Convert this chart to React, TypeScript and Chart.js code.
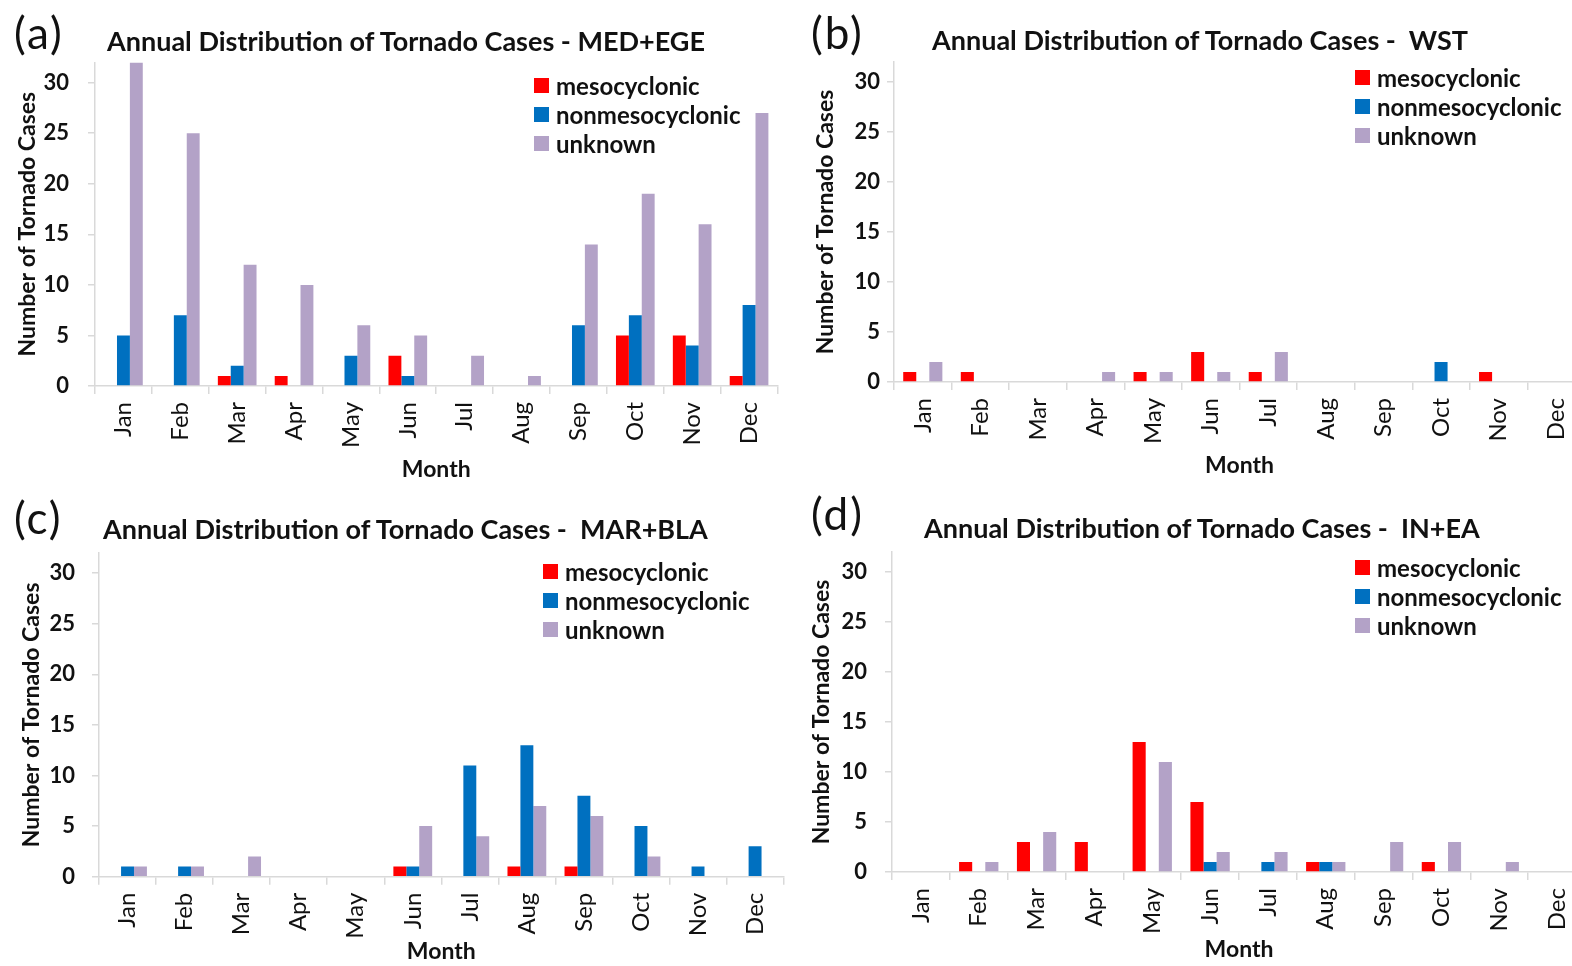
import React, { useEffect, useRef } from "react";
import { Chart, registerables } from "chart.js";

Chart.register(...registerables);

const months = ["Jan", "Feb", "Mar", "Apr", "May", "Jun", "Jul", "Aug", "Sep", "Oct", "Nov", "Dec"];
const seriesNames = ["mesocyclonic", "nonmesocyclonic", "unknown"];
const seriesColors = ["#FF0000", "#0070C0", "#B3A2C7"];
const yTickValues = [0, 5, 10, 15, 20, 25, 30];
const yMax = 32;

// (a) MED+EGE
const medEgeMeso = [0, 0, 1, 1, 0, 3, 0, 0, 0, 5, 5, 1];
const medEgeNonMeso = [5, 7, 2, 0, 3, 1, 0, 0, 6, 7, 4, 8];
const medEgeUnknown = [32, 25, 12, 10, 6, 5, 3, 1, 14, 19, 16, 27];

// (b) WST
const wstMeso = [1, 1, 0, 0, 1, 3, 1, 0, 0, 0, 1, 0];
const wstNonMeso = [0, 0, 0, 0, 0, 0, 0, 0, 0, 2, 0, 0];
const wstUnknown = [2, 0, 0, 1, 1, 1, 3, 0, 0, 0, 0, 0];

// (c) MAR+BLA
const marBlaMeso = [0, 0, 0, 0, 0, 1, 0, 1, 1, 0, 0, 0];
const marBlaNonMeso = [1, 1, 0, 0, 0, 1, 11, 13, 8, 5, 1, 3];
const marBlaUnknown = [1, 1, 2, 0, 0, 5, 4, 7, 6, 2, 0, 0];

// (d) IN+EA
const inEaMeso = [0, 1, 3, 3, 13, 7, 0, 1, 0, 1, 0, 0];
const inEaNonMeso = [0, 0, 0, 0, 0, 1, 1, 1, 0, 0, 0, 0];
const inEaUnknown = [0, 1, 4, 0, 11, 2, 2, 1, 3, 3, 1, 0];

const FONT = "Lato, 'Open Sans', sans-serif";

type PanelSpec = {
  letter: string;
  title: string;
  values: number[][];
  x: number;
  y: number;
  w: number;
  h: number;
  areaLeft: number;
  areaRight: number;
  areaTop: number;
  areaBottom: number;
  tickPad: number;
  yTitleCenter: number;
  monthCenter: number;
  letterPos: [number, number];
  titlePos: [number, number];
  legendPos: [number, number];
};

const panels: PanelSpec[] = [
  {
    letter: "(a)",
    title: "Annual Distribution of Tornado Cases - MED+EGE",
    values: [medEgeMeso, medEgeNonMeso, medEgeUnknown],
    x: 0, y: 0, w: 786, h: 483,
    areaLeft: 95, areaRight: 782.6, areaTop: 62.4, areaBottom: 386,
    tickPad: 19, yTitleCenter: 28, monthCenter: 470,
    letterPos: [14, 10], titlePos: [107, 41], legendPos: [534, 85],
  },
  {
    letter: "(b)",
    title: "Annual Distribution of Tornado Cases -  WST",
    values: [wstMeso, wstNonMeso, wstUnknown],
    x: 786, y: 0, w: 820, h: 483,
    areaLeft: 108, areaRight: 799, areaTop: 62, areaBottom: 382,
    tickPad: 7, yTitleCenter: 40, monthCenter: 466,
    letterPos: [811, 10], titlePos: [932, 40], legendPos: [1355, 77],
  },
  {
    letter: "(c)",
    title: "Annual Distribution of Tornado Cases -  MAR+BLA",
    values: [marBlaMeso, marBlaNonMeso, marBlaUnknown],
    x: 0, y: 483, w: 792, h: 483,
    areaLeft: 99, areaRight: 789, areaTop: 70, areaBottom: 393.7,
    tickPad: 17, yTitleCenter: 32, monthCenter: 469,
    letterPos: [14, 495], titlePos: [103, 529], legendPos: [543, 571],
  },
  {
    letter: "(d)",
    title: "Annual Distribution of Tornado Cases -  IN+EA",
    values: [inEaMeso, inEaNonMeso, inEaUnknown],
    x: 786, y: 483, w: 820, h: 483,
    areaLeft: 106, areaRight: 800, areaTop: 69, areaBottom: 389,
    tickPad: 18, yTitleCenter: 36, monthCenter: 467,
    letterPos: [811, 491], titlePos: [924, 528], legendPos: [1355, 567],
  },
];

const AXIS_GREY = "#d9d9d9";

function Panel({ p }: { p: PanelSpec }) {
  const ref = useRef<HTMLCanvasElement | null>(null);

  useEffect(() => {
    if (!ref.current) return;
    const titleFontSize = 23;
    const titleLH = titleFontSize * 1.2;
    const chart = new Chart(ref.current, {
      type: "bar",
      data: {
        labels: months,
        datasets: seriesNames.map((name, i) => ({
          label: name,
          data: p.values[i],
          backgroundColor: seriesColors[i],
          borderWidth: 0,
          categoryPercentage: 0.68,
          barPercentage: 1.0,
        })),
      },
      options: {
        animation: false,
        responsive: false,
        maintainAspectRatio: false,
        layout: {
          padding: { top: p.areaTop, left: 0, right: p.w - p.areaRight, bottom: 0 },
        },
        plugins: {
          legend: { display: false },
          title: { display: false },
          tooltip: { enabled: false },
        },
        scales: {
          x: {
            grid: {
              offset: true,
              drawOnChartArea: false,
              drawTicks: true,
              tickLength: 8,
              color: AXIS_GREY,
              lineWidth: 1.5,
            },
            border: { display: true, color: AXIS_GREY, width: 1.5 },
            ticks: {
              minRotation: 90,
              maxRotation: 90,
              autoSkip: false,
              color: "#111",
              padding: 8,
              font: { family: FONT, size: 24 },
            },
            title: {
              display: true,
              text: "Month",
              color: "#111",
              font: { family: FONT, size: titleFontSize, weight: "bold" },
              padding: { top: 0, bottom: p.h - p.monthCenter - titleLH / 2 },
            },
            afterFit: (s: any) => {
              s.height = p.h - p.areaBottom;
            },
          },
          y: {
            min: 0,
            max: yMax,
            afterBuildTicks: (s: any) => {
              s.ticks = yTickValues.map((v) => ({ value: v }));
            },
            grid: {
              drawOnChartArea: false,
              drawTicks: true,
              tickLength: 7,
              color: AXIS_GREY,
              lineWidth: 1.5,
            },
            border: { display: true, color: AXIS_GREY, width: 1.5 },
            ticks: {
              color: "#111",
              padding: p.tickPad,
              font: { family: FONT, size: 22, weight: "bold" },
            },
            title: {
              display: true,
              text: "Number of Tornado Cases",
              color: "#111",
              font: { family: FONT, size: titleFontSize, weight: "bold" },
              padding: { top: p.yTitleCenter - titleLH / 2, bottom: 0 },
            },
            afterFit: (s: any) => {
              s.width = p.areaLeft;
            },
          },
        },
      },
    } as any);
    return () => chart.destroy();
  }, [p]);

  return (
    <>
      <canvas
        ref={ref}
        width={p.w}
        height={p.h}
        style={{ position: "absolute", left: p.x, top: p.y, width: p.w, height: p.h }}
      />
      <div
        style={{
          position: "absolute",
          left: p.letterPos[0],
          top: p.letterPos[1],
          fontFamily: FONT,
          fontSize: 44,
          letterSpacing: 2,
          lineHeight: 1,
          color: "#111",
        }}
      >
        {p.letter}
      </div>
      <div
        style={{
          position: "absolute",
          left: p.titlePos[0],
          top: p.titlePos[1] - 14,
          fontFamily: FONT,
          fontSize: 27,
          fontWeight: "bold",
          lineHeight: "28px",
          whiteSpace: "pre",
          color: "#111",
        }}
      >
        {p.title}
      </div>
      {seriesNames.map((name, i) => (
        <div
          key={name}
          style={{
            position: "absolute",
            left: p.legendPos[0],
            top: p.legendPos[1] + i * 29 - 13,
            height: 26,
            display: "flex",
            alignItems: "center",
            fontFamily: FONT,
            fontSize: 24,
            fontWeight: "bold",
            whiteSpace: "pre",
            color: "#111",
          }}
        >
          <span
            style={{
              display: "inline-block",
              width: 15,
              height: 15,
              background: seriesColors[i],
              marginRight: 7,
            }}
          />
          {name}
        </div>
      ))}
    </>
  );
}

export default function App() {
  return (
    <div
      style={{
        position: "absolute",
        left: 0,
        top: 0,
        width: 1572,
        height: 966,
        overflow: "hidden",
        background: "#fff",
      }}
    >
      {panels.map((p) => (
        <Panel key={p.letter} p={p} />
      ))}
    </div>
  );
}
